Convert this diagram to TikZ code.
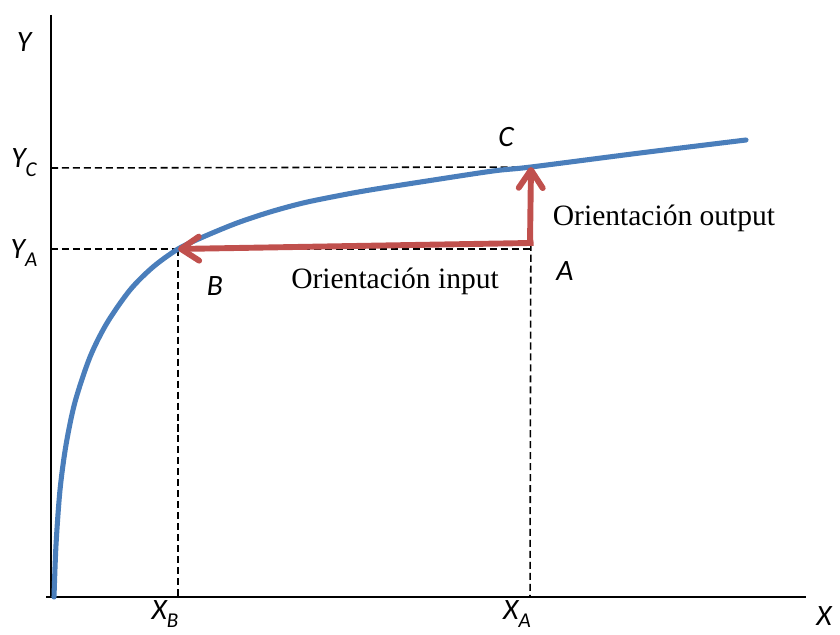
\documentclass[tikz,border=0pt]{standalone}
\usepackage{fontspec}
\setmainfont{Liberation Serif}
\newfontfamily\lblfont{Carlito}
\usetikzlibrary{arrows.meta}
\definecolor{curveblue}{RGB}{74,126,187}
\definecolor{arrowred}{RGB}{192,80,77}
\newcommand{\axlbl}[2]{#1\raisebox{-0.3em}{\fontsize{15}{15}\selectfont #2}}

\begin{document}
\begin{tikzpicture}[x=0.025cm,y=-0.025cm,
  axis/.style={line width=1.4pt},
  guide/.style={line width=1.1pt,dash pattern=on 5pt off 2.8pt},
  lbl/.style={font=\lblfont\itshape\fontsize{21}{21}\selectfont,inner sep=0pt},
  txt/.style={font=\fontsize{21}{21}\selectfont,inner sep=0pt},
  frontier/.style={line width=3.6pt,color=curveblue,line cap=round},
  move/.style={line width=4.2pt,color=arrowred,-{Straight Barb[length=0.45cm,width=0.6cm,round]}}]
\useasboundingbox (0,0) rectangle (840,635);
% points
\coordinate (O) at (51,597);
\coordinate (ytop) at (51,15);
\coordinate (xstart) at (46,597);
\coordinate (xend) at (806,597);
\coordinate (B) at (178,249);
\coordinate (C) at (531,167);
\coordinate (A) at (530,249);
\coordinate (R) at (530,243);
\coordinate (XA) at (530,597);
\coordinate (XB) at (178,597);
\coordinate (YA) at (51,249);
\coordinate (YC) at (51,168);
% labels
\node[lbl] (labY) at (24,42) {Y};
\node[lbl] (labX) at (824,616) {X};
\node[lbl] (labYC) at (24,163) {\axlbl{Y}{C}};
\node[lbl] (labYA) at (24,253) {\axlbl{Y}{A}};
\node[lbl] (labXB) at (165,614) {\axlbl{X}{B}};
\node[lbl] (labXA) at (517,614) {\axlbl{X}{A}};
\node[lbl] (labA) at (565,271) {A};
\node[lbl] (labB) at (215,286) {B};
\node[lbl] (labC) at (506,137) {C};
\node[txt] (inp) at (395,281) {Orientación input};
\node[txt] (outp) at (664,218) {Orientación output};
% guides
\draw[guide] (YC) -- (C);
\draw[guide] (YA) -- (A);
\draw[guide] (B) -- (XB);
\draw[guide] (C) -- (XA);
% axes
\draw[axis] (ytop) -- (O);
\draw[axis] (xstart) -- (xend);
% frontier
\draw[frontier] plot[smooth] coordinates {(54,597) (56,545) (60,490) (66,445) (75,402) (90,357) (107,323) (130,290) (153,267) (178,249) (203,237) (237,223) (270,212) (303,203) (337,196) (370,190) (427,181) (493,171) (531,167) (640,153) (746,140)};
% orientations
\draw[move,shorten <=-2.5pt] (R) -- (B);
\draw[move] (R) -- (C);
\end{tikzpicture}
\end{document}
